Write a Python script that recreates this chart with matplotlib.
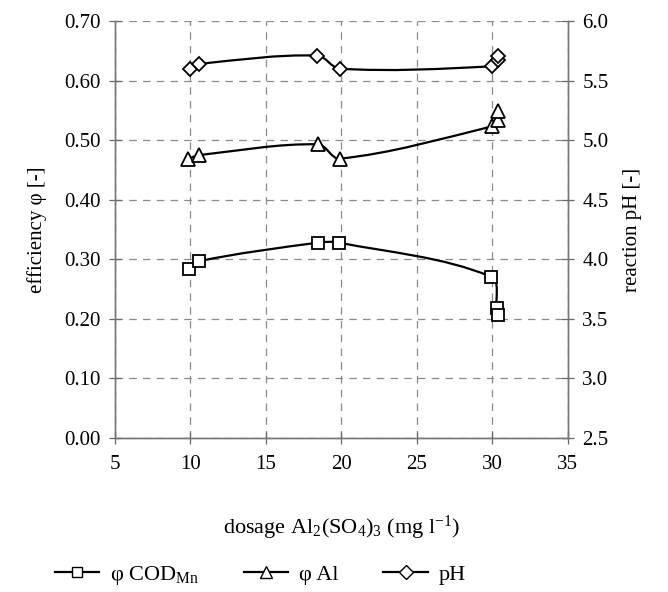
import numpy as np
import matplotlib
matplotlib.use("Agg")
import matplotlib.pyplot as plt
from matplotlib.path import Path
from matplotlib.patches import PathPatch
from matplotlib.lines import Line2D

plt.rcParams["font.family"] = ["Liberation Serif", "DejaVu Serif"]
plt.rcParams["mathtext.fontset"] = "custom"
plt.rcParams["mathtext.rm"] = "Liberation Serif"
plt.rcParams["mathtext.it"] = "Liberation Serif:italic"

# data
cod_x = [9.9, 10.6, 18.45, 19.85, 29.9, 30.3, 30.35]
cod_y = [0.283, 0.297, 0.328, 0.328, 0.271, 0.218, 0.206]
al_x = [9.85, 10.6, 18.45, 19.9, 29.95, 30.4, 30.4]
al_y = [0.469, 0.475, 0.493, 0.469, 0.523, 0.534, 0.549]
ph_x = [9.95, 10.6, 18.4, 19.9, 29.95, 30.35, 30.4]
ph_y = [5.60, 5.64, 5.71, 5.60, 5.62, 5.67, 5.71]

x_ticks = [5, 10, 15, 20, 25, 30, 35]
left_ticks = [0.0, 0.1, 0.2, 0.3, 0.4, 0.5, 0.6, 0.7]
right_ticks = [2.5, 3.0, 3.5, 4.0, 4.5, 5.0, 5.5, 6.0]


def smooth_path(a, xs, ys):
    # smoothed line like a spreadsheet chart: Bezier segments in screen-scaled
    # coordinates, tangents limited by the segment lengths (no loops)
    x0, x1 = a.get_xlim()
    y0, y1 = a.get_ylim()
    sx, sy = 453 / (x1 - x0), 417 / (y1 - y0)
    p = np.column_stack([(np.array(xs) - x0) * sx, (np.array(ys) - y0) * sy])
    n = len(p)
    verts = [p[0]]
    codes = [Path.MOVETO]
    tang = []
    for i in range(n):
        d = p[min(i + 1, n - 1)] - p[max(i - 1, 0)]
        L = np.hypot(*d)
        tang.append(d / L if L > 0 else d)
    for i in range(n - 1):
        seg = np.hypot(*(p[i + 1] - p[i]))
        c1 = p[i] + tang[i] * seg / 3
        c2 = p[i + 1] - tang[i + 1] * seg / 3
        verts += [c1, c2, p[i + 1]]
        codes += [Path.CURVE4] * 3
    verts = np.array(verts)
    verts[:, 0] = verts[:, 0] / sx + x0
    verts[:, 1] = verts[:, 1] / sy + y0
    return Path(verts, codes)


fig = plt.figure(figsize=(6.68, 5.92), dpi=100)
ax = fig.add_axes([0.172, 0.26, 0.678, 0.7045])
ax2 = ax.twinx()

grid_kw = dict(color="#8a8a8a", linestyle=(0, (6, 5)), linewidth=0.9)
ax.set_xlim(5, 35)
ax.set_ylim(0, 0.7)
ax2.set_ylim(2.5, 6.0)
ax.set_xticks(x_ticks)
ax.set_yticks(left_ticks)
ax2.set_yticks(right_ticks)
ax.set_yticklabels([f"{v:.2f}" for v in left_ticks])
ax2.set_yticklabels([f"{v:.1f}" for v in right_ticks])
ax.grid(True, **grid_kw)

for a in (ax, ax2):
    for s in a.spines.values():
        s.set_color("#777777")
        s.set_linewidth(1.0)
    a.spines["top"].set_visible(False)
    a.tick_params(direction="inout", length=9, width=0.9, color="#666666",
                  labelsize=15)
ax.tick_params(axis="x", pad=8)
ax.tick_params(axis="y", pad=6)
ax2.tick_params(axis="y", pad=6)

mk = dict(color="black", markerfacecolor="white", markeredgecolor="black",
          markeredgewidth=1.3, linestyle="none")
for a, xs, ys, m, ms in [(ax, cod_x, cod_y, "s", 8), (ax, al_x, al_y, "^", 10),
                         (ax2, ph_x, ph_y, "D", 7.5)]:
    a.add_patch(PathPatch(smooth_path(a, xs, ys), facecolor="none",
                          edgecolor="black", linewidth=1.6, zorder=3))
    a.plot(xs, ys, marker=m, markersize=ms, zorder=4, **mk)

ax.set_ylabel("efficiency φ [-]", fontsize=15, labelpad=12)
ax2.set_ylabel("reaction pH [-]", fontsize=15, labelpad=10)
ax.set_xlabel(r"dosage Al$_2$(SO$_4$)$_3$ (mg l$^{-1}$)", fontsize=16,
              labelpad=28)

handles = [
    Line2D([], [], color="black", lw=1.6, marker="s", markersize=7,
           markerfacecolor="white", markeredgecolor="black"),
    Line2D([], [], color="black", lw=1.6, marker="^", markersize=9,
           markerfacecolor="white", markeredgecolor="black"),
    Line2D([], [], color="black", lw=1.6, marker="D", markersize=7,
           markerfacecolor="white", markeredgecolor="black"),
]
labels = [r"φ COD$_{\mathrm{Mn}}$", "φ Al", "pH"]
fig.legend(handles, labels, loc="center", bbox_to_anchor=(0.39, 0.028),
           ncol=3, frameon=False, fontsize=16, handlelength=2.0,
           columnspacing=2.0, handletextpad=0.5)

fig.savefig("out.png", dpi=100)
